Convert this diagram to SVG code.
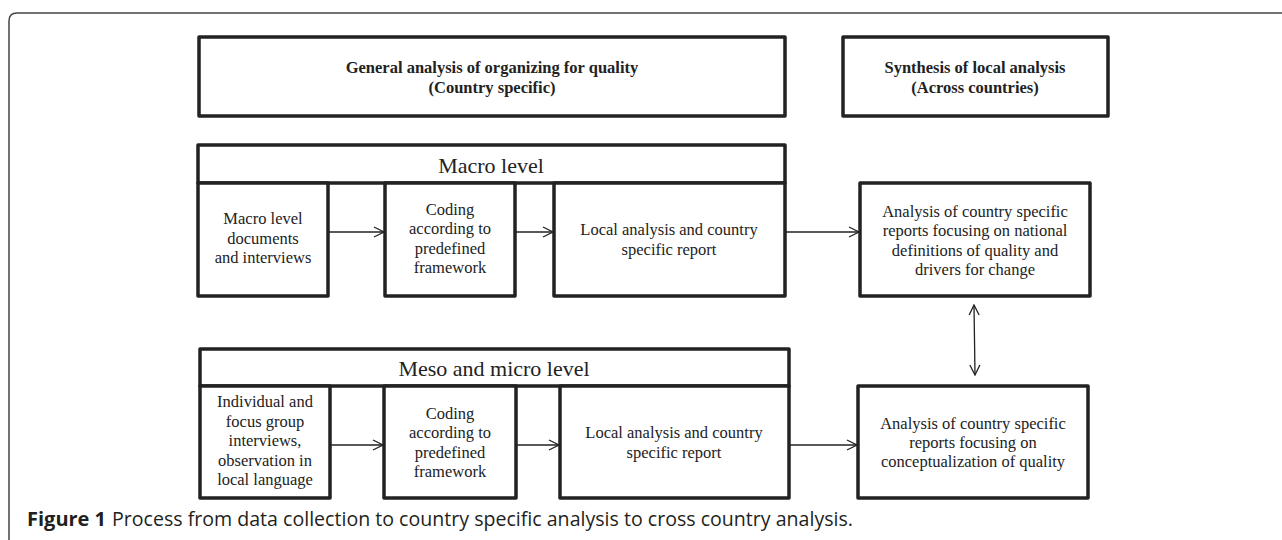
<svg xmlns="http://www.w3.org/2000/svg" width="1282" height="540" viewBox="0 0 1282 540">
<style>
.box{fill:#fff;stroke:#222;stroke-width:3.5;stroke-linejoin:round}
.t{font-family:"Liberation Serif","Times New Roman",serif;font-size:16.5px;fill:#222;text-anchor:middle}
.h{font-family:"Liberation Serif","Times New Roman",serif;font-size:22px;fill:#222;text-anchor:middle}
.b{font-family:"Liberation Serif","Times New Roman",serif;font-size:16.5px;font-weight:bold;fill:#222;text-anchor:middle}
.c{stroke:#222;stroke-width:1.3;fill:none}
.cap{font-family:"Open Sans","Noto Sans","Liberation Sans",sans-serif;font-size:20px;fill:#231f20}
</style>
<defs>
<marker id="ah" viewBox="0 0 12 12" refX="11" refY="6" markerWidth="12" markerHeight="12" markerUnits="userSpaceOnUse" orient="auto-start-reverse">
<path d="M1,1 L11,6 L1,11" fill="none" stroke="#222" stroke-width="1.3"/>
</marker>
</defs>
<path d="M9,540 V21 Q9,13 17,13 H1282" fill="none" stroke="#444" stroke-width="1.5"/>
<g id="general">
<rect class="box" x="199" y="37" width="586" height="79"/>
<text class="b" x="492" y="73">General analysis of organizing for quality</text>
<text class="b" x="492" y="93">(Country specific)</text>
</g>
<g id="synthesis">
<rect class="box" x="843" y="37" width="265" height="79"/>
<text class="b" x="975" y="73">Synthesis of local analysis</text>
<text class="b" x="975" y="93">(Across countries)</text>
</g>
<g id="macro-header">
<rect class="box" x="198" y="145" width="587" height="38"/>
<text class="h" x="491" y="173">Macro level</text>
</g>
<g id="macro-docs">
<rect class="box" x="198" y="183" width="130" height="113"/>
<text class="t" x="263" y="224">Macro level</text>
<text class="t" x="263" y="244">documents</text>
<text class="t" x="263" y="263">and interviews</text>
</g>
<g id="macro-coding">
<rect class="box" x="385" y="183" width="130" height="113"/>
<text class="t" x="450" y="215">Coding</text>
<text class="t" x="450" y="234">according to</text>
<text class="t" x="450" y="254">predefined</text>
<text class="t" x="450" y="273">framework</text>
</g>
<g id="macro-local">
<rect class="box" x="554" y="183" width="231" height="113"/>
<text class="t" x="669" y="235">Local analysis and country</text>
<text class="t" x="669" y="255">specific report</text>
</g>
<g id="national">
<rect class="box" x="860" y="183" width="230" height="113"/>
<text class="t" x="975" y="217">Analysis of country specific</text>
<text class="t" x="975" y="236">reports focusing on national</text>
<text class="t" x="975" y="256">definitions of quality and</text>
<text class="t" x="975" y="275">drivers for change</text>
</g>
<g id="meso-header">
<rect class="box" x="200" y="349" width="589" height="37"/>
<text class="h" x="494" y="376">Meso and micro level</text>
</g>
<g id="meso-interviews">
<rect class="box" x="200" y="386" width="130" height="112"/>
<text class="t" x="265" y="407">Individual and</text>
<text class="t" x="265" y="427">focus group</text>
<text class="t" x="265" y="446">interviews,</text>
<text class="t" x="265" y="466">observation in</text>
<text class="t" x="265" y="485">local language</text>
</g>
<g id="meso-coding">
<rect class="box" x="384" y="386" width="132" height="112"/>
<text class="t" x="450" y="419">Coding</text>
<text class="t" x="450" y="438">according to</text>
<text class="t" x="450" y="458">predefined</text>
<text class="t" x="450" y="477">framework</text>
</g>
<g id="meso-local">
<rect class="box" x="560" y="386" width="229" height="112"/>
<text class="t" x="674" y="438">Local analysis and country</text>
<text class="t" x="674" y="458">specific report</text>
</g>
<g id="conceptual">
<rect class="box" x="858" y="386" width="230" height="112"/>
<text class="t" x="973" y="429">Analysis of country specific</text>
<text class="t" x="973" y="448">reports focusing on</text>
<text class="t" x="973" y="467">conceptualization of quality</text>
</g>
<g id="connectors">
<line class="c" x1="328" y1="232" x2="384" y2="232" marker-end="url(#ah)"/>
<line class="c" x1="515" y1="232" x2="553" y2="232" marker-end="url(#ah)"/>
<line class="c" x1="785" y1="232" x2="859" y2="232" marker-end="url(#ah)"/>
<line class="c" x1="974" y1="305" x2="975" y2="375" marker-start="url(#ah)" marker-end="url(#ah)"/>
<line class="c" x1="330" y1="445" x2="383" y2="445" marker-end="url(#ah)"/>
<line class="c" x1="516" y1="445" x2="559" y2="445" marker-end="url(#ah)"/>
<line class="c" x1="789" y1="445" x2="857" y2="445" marker-end="url(#ah)"/>
</g>
<text class="cap" y="526"><tspan x="27" font-weight="bold">Figure 1</tspan><tspan x="112" textLength="741" lengthAdjust="spacingAndGlyphs">Process from data collection to country specific analysis to cross country analysis.</tspan></text>
</svg>
